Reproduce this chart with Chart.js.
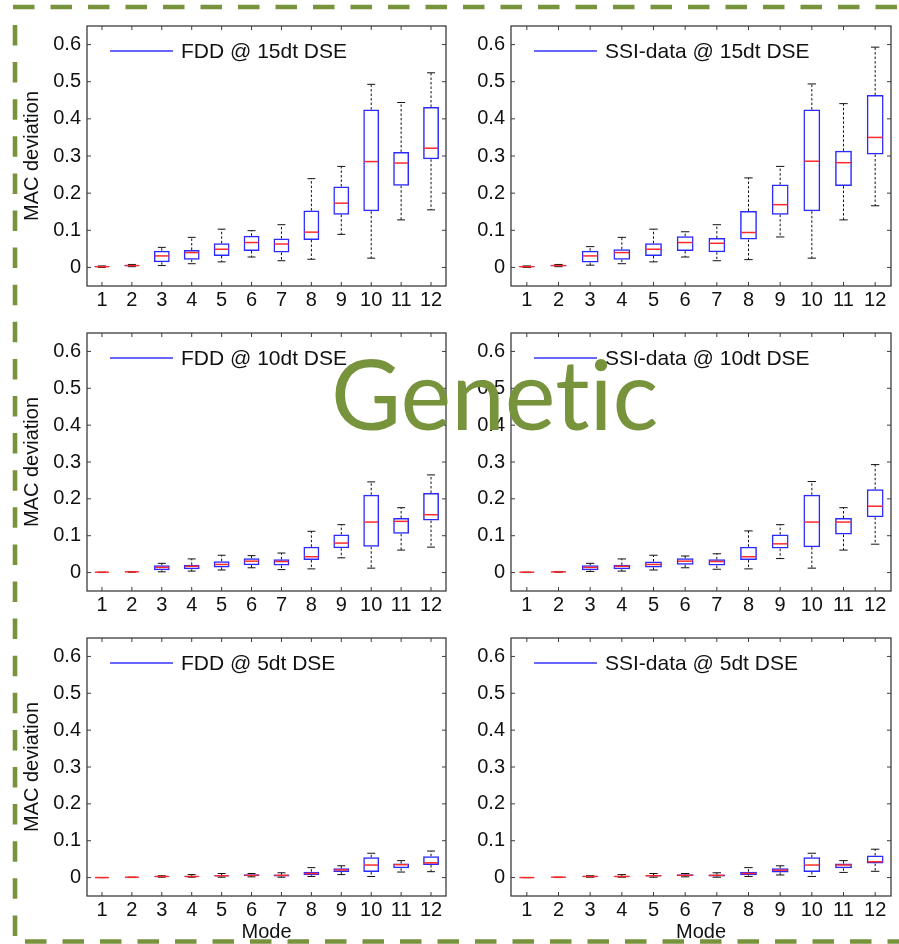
<!DOCTYPE html>
<html>
<head>
<meta charset="utf-8">
<script src="https://cdn.jsdelivr.net/npm/chart.js@4.4.1/dist/chart.umd.min.js"></script>
<style>
  body { margin: 0; background: #fff; }
  #wrap { position: relative; width: 899px; height: 944px; overflow: hidden; }
  canvas { position: absolute; }
  svg { position: absolute; left: 0; top: 0; pointer-events: none; }
  svg text { font-variant-ligatures: none; }
</style>
</head>
<body>
<div id="wrap">
  <canvas id="c1" width="430" height="320" style="left:20px;top:0"></canvas>
  <canvas id="c2" width="449" height="320" style="left:450px;top:0"></canvas>
  <canvas id="c3" width="430" height="320" style="left:20px;top:310px"></canvas>
  <canvas id="c4" width="449" height="320" style="left:450px;top:310px"></canvas>
  <canvas id="c5" width="430" height="324" style="left:20px;top:620px"></canvas>
  <canvas id="c6" width="449" height="324" style="left:450px;top:620px"></canvas>
  <svg width="899" height="944">
    <text x="331" y="430" font-family="Lato" font-size="96" fill="#77933c">Genetic</text>
    <g stroke="#77933c" stroke-width="4.6" fill="none">
      <line x1="13" y1="7" x2="899" y2="7" stroke-dasharray="21.5 16"/>
      <line x1="15" y1="25" x2="15" y2="944" stroke-dasharray="20.5 16.6"/>
      <line x1="25" y1="941.5" x2="899" y2="941.5" stroke-dasharray="21.5 16"/>
    </g>
  </svg>
</div>
<script>
const modes = ['1', '2', '3', '4', '5', '6', '7', '8', '9', '10', '11', '12'];
const yTicks = [0, 0.1, 0.2, 0.3, 0.4, 0.5, 0.6];

// each entry: [lower whisker, q1, median, q3, upper whisker] for one mode
const fdd15 = [
  [0.000, 0.001, 0.002, 0.003, 0.004],
  [0.002, 0.003, 0.005, 0.006, 0.008],
  [0.005, 0.014, 0.031, 0.045, 0.054],
  [0.010, 0.021, 0.040, 0.047, 0.081],
  [0.015, 0.031, 0.049, 0.065, 0.103],
  [0.028, 0.044, 0.067, 0.085, 0.099],
  [0.018, 0.040, 0.063, 0.078, 0.115],
  [0.022, 0.074, 0.095, 0.153, 0.239],
  [0.089, 0.142, 0.173, 0.218, 0.272],
  [0.025, 0.151, 0.285, 0.425, 0.493],
  [0.128, 0.220, 0.281, 0.311, 0.444],
  [0.155, 0.291, 0.321, 0.432, 0.524]
];
const ssi15 = [
  [0.000, 0.001, 0.002, 0.003, 0.004],
  [0.002, 0.003, 0.005, 0.006, 0.008],
  [0.006, 0.013, 0.031, 0.045, 0.056],
  [0.010, 0.021, 0.040, 0.049, 0.081],
  [0.015, 0.031, 0.049, 0.065, 0.103],
  [0.028, 0.044, 0.067, 0.084, 0.096],
  [0.018, 0.041, 0.065, 0.079, 0.115],
  [0.021, 0.075, 0.094, 0.152, 0.241],
  [0.082, 0.142, 0.169, 0.223, 0.272],
  [0.025, 0.151, 0.286, 0.425, 0.494],
  [0.128, 0.219, 0.282, 0.314, 0.441],
  [0.166, 0.304, 0.350, 0.464, 0.593]
];
const fdd10 = [
  [0.000, 0.000, 0.001, 0.001, 0.001],
  [0.001, 0.001, 0.002, 0.002, 0.003],
  [0.002, 0.006, 0.014, 0.020, 0.025],
  [0.004, 0.009, 0.017, 0.021, 0.037],
  [0.007, 0.014, 0.022, 0.031, 0.047],
  [0.013, 0.020, 0.031, 0.039, 0.046],
  [0.008, 0.019, 0.030, 0.036, 0.053],
  [0.010, 0.034, 0.043, 0.070, 0.112],
  [0.040, 0.066, 0.080, 0.103, 0.130],
  [0.012, 0.070, 0.137, 0.211, 0.246],
  [0.061, 0.105, 0.139, 0.148, 0.176],
  [0.069, 0.141, 0.157, 0.216, 0.265]
];
const ssi10 = [
  [0.000, 0.000, 0.001, 0.001, 0.001],
  [0.001, 0.001, 0.002, 0.002, 0.003],
  [0.003, 0.006, 0.014, 0.020, 0.025],
  [0.004, 0.009, 0.017, 0.021, 0.037],
  [0.007, 0.014, 0.022, 0.030, 0.047],
  [0.013, 0.021, 0.031, 0.039, 0.045],
  [0.009, 0.019, 0.030, 0.036, 0.051],
  [0.010, 0.034, 0.043, 0.070, 0.113],
  [0.038, 0.065, 0.078, 0.103, 0.130],
  [0.012, 0.069, 0.137, 0.211, 0.247],
  [0.061, 0.103, 0.137, 0.148, 0.176],
  [0.077, 0.150, 0.180, 0.226, 0.293]
];
const fdd5 = [
  [0.000, 0.000, 0.000, 0.000, 0.000],
  [0.000, 0.000, 0.001, 0.001, 0.001],
  [0.001, 0.002, 0.003, 0.004, 0.005],
  [0.001, 0.002, 0.003, 0.004, 0.008],
  [0.001, 0.003, 0.005, 0.006, 0.011],
  [0.002, 0.004, 0.006, 0.009, 0.011],
  [0.001, 0.003, 0.006, 0.008, 0.013],
  [0.003, 0.006, 0.011, 0.016, 0.027],
  [0.008, 0.015, 0.021, 0.025, 0.032],
  [0.003, 0.015, 0.034, 0.055, 0.066],
  [0.015, 0.025, 0.035, 0.038, 0.046],
  [0.016, 0.034, 0.040, 0.058, 0.072]
];
const ssi5 = [
  [0.000, 0.000, 0.000, 0.000, 0.000],
  [0.000, 0.000, 0.001, 0.001, 0.001],
  [0.001, 0.002, 0.003, 0.004, 0.005],
  [0.001, 0.002, 0.003, 0.004, 0.008],
  [0.001, 0.003, 0.005, 0.006, 0.011],
  [0.002, 0.004, 0.006, 0.009, 0.011],
  [0.001, 0.003, 0.006, 0.008, 0.013],
  [0.003, 0.006, 0.011, 0.016, 0.027],
  [0.007, 0.014, 0.020, 0.025, 0.032],
  [0.003, 0.015, 0.034, 0.055, 0.066],
  [0.014, 0.025, 0.034, 0.038, 0.046],
  [0.017, 0.038, 0.043, 0.060, 0.077]
];

Chart.defaults.font.family = '"Liberation Sans", Arial, sans-serif';
Chart.defaults.font.size = 20;
Chart.defaults.color = '#111';

// whiskers, caps and medians on top of the floating bars
const boxExtras = {
  id: 'boxExtras',
  afterDatasetsDraw(chart, args, opts) {
    const { ctx, scales: { y } } = chart;
    const meta = chart.getDatasetMeta(0);
    ctx.save();
    meta.data.forEach((bar, i) => {
      const [lo, q1, med, q3, hi] = opts.stats[i];
      const cx = bar.x;
      const half = bar.width / 2;
      ctx.strokeStyle = '#111';
      ctx.lineWidth = 1;
      ctx.setLineDash([2.5, 2]);
      ctx.beginPath();
      ctx.moveTo(cx, y.getPixelForValue(q3));
      ctx.lineTo(cx, y.getPixelForValue(hi));
      ctx.moveTo(cx, y.getPixelForValue(q1));
      ctx.lineTo(cx, y.getPixelForValue(lo));
      ctx.stroke();
      ctx.setLineDash([]);
      ctx.beginPath();
      [lo, hi].forEach(v => {
        const py = y.getPixelForValue(v);
        ctx.moveTo(cx - half / 2, py);
        ctx.lineTo(cx + half / 2, py);
      });
      ctx.stroke();
      ctx.strokeStyle = '#ff2a2a';
      ctx.lineWidth = 1.5;
      ctx.beginPath();
      const pm = y.getPixelForValue(med);
      ctx.moveTo(cx - half + 1, pm);
      ctx.lineTo(cx + half - 1, pm);
      ctx.stroke();
    });
    ctx.restore();
  }
};

// matlab style box frame, inward ticks and the in-plot legend
const frame = {
  id: 'frame',
  afterDraw(chart, args, opts) {
    const { ctx, chartArea: a, scales: { x, y } } = chart;
    ctx.save();
    ctx.strokeStyle = '#3c3c3c';
    ctx.lineWidth = 1.3;
    ctx.strokeRect(a.left, a.top, a.right - a.left, a.bottom - a.top);
    ctx.lineWidth = 1;
    ctx.beginPath();
    y.ticks.forEach(t => {
      const py = y.getPixelForValue(t.value);
      ctx.moveTo(a.left, py); ctx.lineTo(a.left + 4, py);
      ctx.moveTo(a.right, py); ctx.lineTo(a.right - 4, py);
    });
    x.ticks.forEach((t, i) => {
      const px = x.getPixelForTick(i);
      ctx.moveTo(px, a.bottom); ctx.lineTo(px, a.bottom - 4);
      ctx.moveTo(px, a.top); ctx.lineTo(px, a.top + 4);
    });
    ctx.stroke();

    const ly = a.top + 25;
    ctx.strokeStyle = '#3535ff';
    ctx.lineWidth = 1.5;
    ctx.beginPath();
    ctx.moveTo(a.left + 23, ly);
    ctx.lineTo(a.left + 86, ly);
    ctx.stroke();
    ctx.fillStyle = '#111';
    ctx.font = '21px "Liberation Sans", Arial, sans-serif';
    ctx.textBaseline = 'middle';
    ctx.fillText(opts.legend, a.left + 94, ly + 1);
    ctx.restore();
  }
};

function makeChart(id, stats, legend, opt) {
  new Chart(document.getElementById(id), {
    type: 'bar',
    data: {
      labels: modes,
      datasets: [{
        data: stats.map(s => [s[1], s[3]]),
        backgroundColor: 'rgba(255,255,255,0)',
        borderColor: '#2a2aff',
        borderWidth: 1.5,
        borderSkipped: false,
        barPercentage: 0.53,
        categoryPercentage: 1
      }]
    },
    options: {
      responsive: false,
      animation: false,
      layout: { padding: { top: opt.top, right: opt.right, left: 0, bottom: 0 } },
      plugins: {
        legend: { display: false },
        tooltip: { enabled: false },
        boxExtras: { stats },
        frame: { legend }
      },
      scales: {
        x: {
          offset: true,
          grid: { display: false, drawTicks: false },
          border: { display: false },
          ticks: { padding: 2, maxRotation: 0, autoSkip: false },
          title: { display: opt.mode, text: 'Mode', padding: 0 },
          afterFit: s => { s.height = opt.xH; }
        },
        y: {
          min: -0.05,
          max: 0.65,
          grid: { display: false, drawTicks: false },
          border: { display: false },
          afterBuildTicks: s => { s.ticks = yTicks.map(v => ({ value: v })); },
          ticks: { padding: 6, callback: v => String(Math.round(v * 10) / 10) },
          title: { display: opt.ylab, text: 'MAC deviation', padding: 0 },
          afterFit: s => { s.width = opt.yW; }
        }
      }
    },
    plugins: [boxExtras, frame]
  });
}

makeChart('c1', fdd15, 'FDD @ 15dt DSE', { top: 26, right: 4, xH: 34, yW: 67, ylab: true, mode: false });
makeChart('c2', ssi15, 'SSI-data @ 15dt DSE', { top: 26, right: 8, xH: 34, yW: 61, ylab: false, mode: false });
makeChart('c3', fdd10, 'FDD @ 10dt DSE', { top: 23, right: 4, xH: 39, yW: 67, ylab: true, mode: false });
makeChart('c4', ssi10, 'SSI-data @ 10dt DSE', { top: 23, right: 8, xH: 39, yW: 61, ylab: false, mode: false });
makeChart('c5', fdd5, 'FDD @ 5dt DSE', { top: 18, right: 4, xH: 48, yW: 67, ylab: true, mode: true });
makeChart('c6', ssi5, 'SSI-data @ 5dt DSE', { top: 18, right: 8, xH: 48, yW: 61, ylab: false, mode: true });
</script>
</body>
</html>
